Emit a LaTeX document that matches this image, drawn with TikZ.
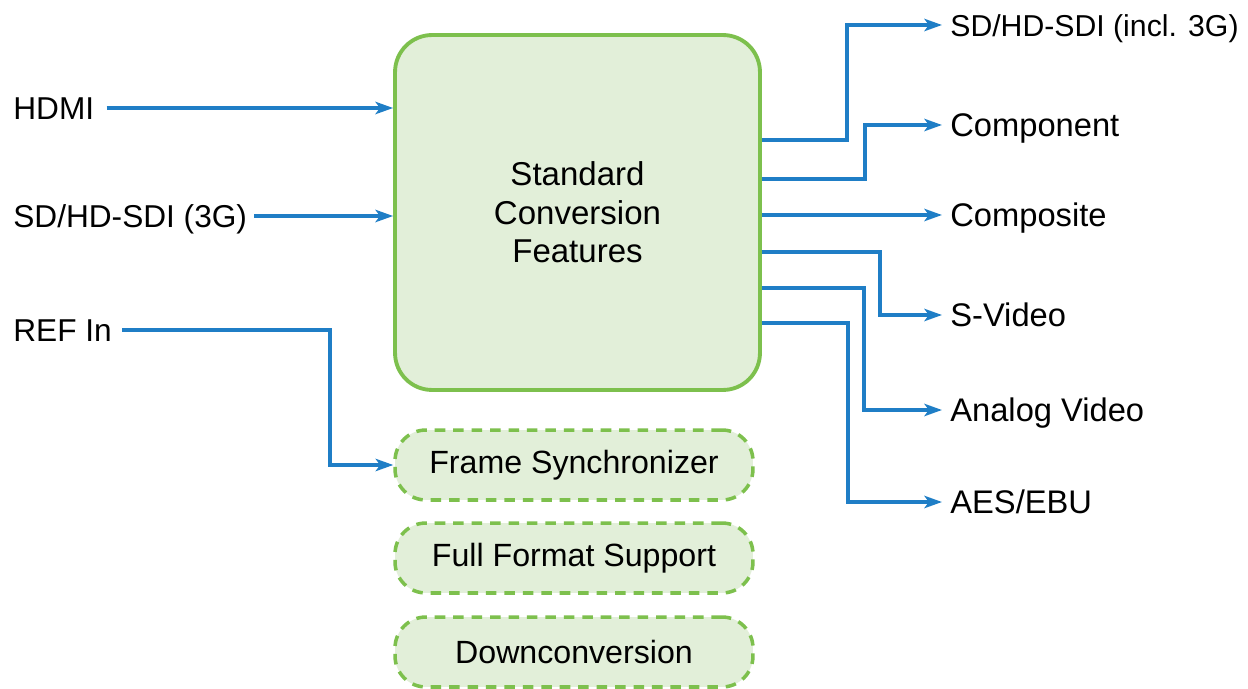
\documentclass[tikz,border=0pt]{standalone}
\usepackage{fontspec}
\setmainfont{Liberation Sans}
\usetikzlibrary{arrows.meta}
\definecolor{flowblue}{HTML}{1F7EC6}
\definecolor{boxgreen}{HTML}{7DC04D}
\definecolor{boxfill}{HTML}{E2EFD9}
\begin{document}
\begin{tikzpicture}[x=0.02cm,y=-0.02cm,
  lbl/.style={anchor=west,inner sep=0pt,text height=13pt,text depth=0pt,font=\fontsize{18}{22}\selectfont},
  rlbl/.style={lbl,font=\fontsize{18.6}{22}\selectfont},
  flow/.style={draw=flowblue,line width=2pt,-{Stealth[length=10pt,width=7pt,inset=2.5pt]}},
  mainbox/.style={draw=boxgreen,fill=boxfill,line width=2.2pt,rounded corners=0.74cm,minimum width=7.3cm,minimum height=7.1cm,align=center,font=\fontsize{18.8}{22}\selectfont},
  featbox/.style={draw=boxgreen,fill=boxfill,line width=2pt,dash pattern=on 6pt off 4.5pt,rounded corners=0.62cm,minimum width=7.16cm,minimum height=1.4cm,font=\fontsize{18.3}{22}\selectfont}]
\fill[white] (0,0) rectangle (1248,689);
\useasboundingbox (0,0) rectangle (1248,689);

\node[mainbox] (main) at (577.5,212.5) {Standard\\Conversion\\Features};
\node[featbox] (sync) at (574,465) {Frame Synchronizer};
\node[featbox] (full) at (574,558) {Full Format Support};
\node[featbox] (down) at (574,652) {Downconversion};

\node[lbl] (hdmi) at (13,108) {HDMI};
\node[lbl] (sdiin) at (13,216) {SD/HD-SDI (3G)};
\node[lbl] (ref) at (13,330) {REF In};

\node[lbl,font=\fontsize{17.2}{20}\selectfont] (o1) at (950,25) {SD/HD-SDI (incl. 3G)};
\node[rlbl] (o2) at (950,125) {Component};
\node[rlbl] (o3) at (950,215) {Composite};
\node[rlbl] (o4) at (950,315) {S-Video};
\node[rlbl] (o5) at (950,410) {Analog Video};
\node[rlbl] (o6) at (950,502) {AES/EBU};

\draw[flow,shorten <=0.24cm] (hdmi.east) -- (main.west |- hdmi.east);
\draw[flow,shorten <=0.14cm] (sdiin.east) -- (main.west |- sdiin.east);
\draw[flow,shorten <=0.2cm] (ref.east) -| (330,0 |- sync.west) -- (sync.west);

\draw[flow,shorten >=0.16cm] (main.east |- 0,140) -| (847,0 |- o1.west) -- (o1.west);
\draw[flow,shorten >=0.16cm] (main.east |- 0,179) -| (865,0 |- o2.west) -- (o2.west);
\draw[flow,shorten >=0.16cm] (main.east |- o3.west) -- (o3.west);
\draw[flow,shorten >=0.16cm] (main.east |- 0,252) -| (880,0 |- o4.west) -- (o4.west);
\draw[flow,shorten >=0.16cm] (main.east |- 0,288) -| (864,0 |- o5.west) -- (o5.west);
\draw[flow,shorten >=0.16cm] (main.east |- 0,323) -| (848,0 |- o6.west) -- (o6.west);
\end{tikzpicture}
\end{document}
